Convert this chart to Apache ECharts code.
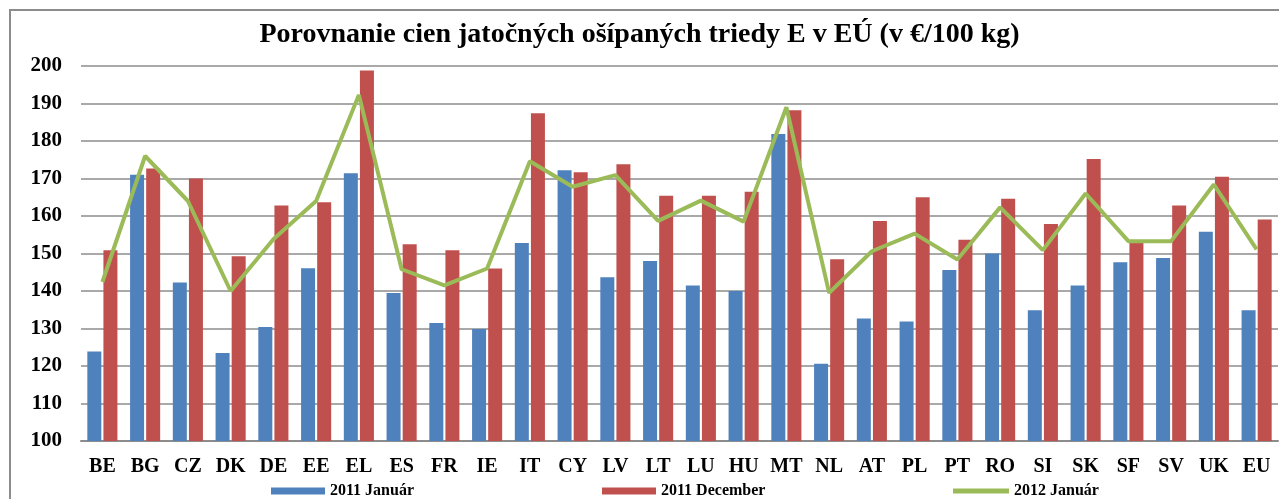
<!DOCTYPE html>
<html>
<head>
<meta charset="utf-8">
<script src="https://cdn.jsdelivr.net/npm/echarts@6/dist/echarts.min.js"></script>
<style>
  html, body { margin: 0; padding: 0; background: #fff; }
  #chart { width: 1279px; height: 499px; }
</style>
</head>
<body>
<div id="chart"></div>
<script>
// krajiny EÚ
var krajiny = ['BE', 'BG', 'CZ', 'DK', 'DE', 'EE', 'EL', 'ES', 'FR', 'IE', 'IT', 'CY', 'LV', 'LT',
  'LU', 'HU', 'MT', 'NL', 'AT', 'PL', 'PT', 'RO', 'SI', 'SK', 'SF', 'SV', 'UK', 'EU'];

// ceny v €/100 kg (odčítané z grafu)
var jan2011 = [123.9, 171.0, 142.3, 123.5, 130.4, 146.1, 171.4, 139.5, 131.5, 129.9, 152.8, 172.2, 143.7, 148.0,
  141.5, 140.0, 181.9, 120.6, 132.7, 131.9, 145.6, 150.0, 134.9, 141.5, 147.7, 148.8, 155.8, 134.9];
var dec2011 = [150.9, 172.7, 170.0, 149.3, 162.8, 163.7, 198.8, 152.5, 150.9, 146.0, 187.4, 171.7, 173.8, 165.4,
  165.4, 166.5, 188.2, 148.5, 158.7, 165.0, 153.7, 164.6, 157.9, 175.2, 152.8, 162.8, 170.5, 159.1];
var jan2012 = [142.4, 176.0, 164.0, 140.0, 153.8, 164.0, 192.3, 145.8, 141.5, 146.0, 174.6, 167.8, 170.9, 158.7,
  164.1, 158.5, 189.0, 139.5, 150.6, 155.3, 148.4, 162.3, 150.9, 166.0, 153.3, 153.3, 168.4, 151.1];

var yMin = 100, yMax = 200, yStep = 10;

var font = 'Liberation Serif';

var legendText = { fontFamily: font, fontWeight: 'bold', fontSize: 16, color: '#000' };

var myChart = echarts.init(document.getElementById('chart'));

myChart.setOption({
  animation: false,
  backgroundColor: '#fff',
  title: {
    text: 'Porovnanie cien jatočných ošípaných triedy E v EÚ (v €/100 kg)',
    left: 'center',
    top: 16,
    textStyle: { fontFamily: font, fontWeight: 'bold', fontSize: 28, color: '#000' }
  },
  // ramček okolo grafu
  graphic: [{
    type: 'rect',
    shape: { x: 10, y: 10, width: 1320, height: 600 },
    style: { fill: 'none', stroke: '#8c8c8c', lineWidth: 2 },
    silent: true
  }],
  legend: [
    { data: ['2011 Január'], left: 266, top: 478, itemWidth: 54, itemHeight: 7, itemGap: 4, textStyle: legendText, icon: 'rect' },
    { data: ['2011 December'], left: 597, top: 478, itemWidth: 54, itemHeight: 7, itemGap: 4, textStyle: legendText, icon: 'rect' },
    { data: ['2012 Január'], left: 948, top: 478, itemWidth: 56, itemHeight: 5, itemGap: 4, textStyle: legendText, icon: 'rect' }
  ],
  grid: { left: 81, right: 1, top: 66, bottom: 58, containLabel: false },
  xAxis: {
    type: 'category',
    data: krajiny,
    axisTick: { show: false },
    axisLine: { lineStyle: { color: '#8c8c8c', width: 2 } },
    axisLabel: { fontFamily: font, fontWeight: 'bold', fontSize: 20, color: '#000', margin: 16, interval: 0 }
  },
  yAxis: {
    type: 'value',
    min: yMin,
    max: yMax,
    interval: yStep,
    axisLine: { show: false },
    axisTick: { show: false },
    axisLabel: { fontFamily: font, fontWeight: 'bold', fontSize: 21, color: '#000', margin: 19 },
    splitLine: { lineStyle: { color: '#8c8c8c', width: 1.5 } }
  },
  series: [
    {
      name: '2011 Január',
      type: 'bar',
      data: jan2011,
      barWidth: 14,
      barGap: '15%',
      itemStyle: { color: '#4F81BD' }
    },
    {
      name: '2011 December',
      type: 'bar',
      data: dec2011,
      barWidth: 14,
      itemStyle: { color: '#C0504D' }
    },
    {
      name: '2012 Január',
      type: 'line',
      data: jan2012,
      symbol: 'none',
      lineStyle: { width: 4, color: '#9BBB59' },
      itemStyle: { color: '#9BBB59' },
      z: 5
    }
  ]
});
</script>
</body>
</html>
